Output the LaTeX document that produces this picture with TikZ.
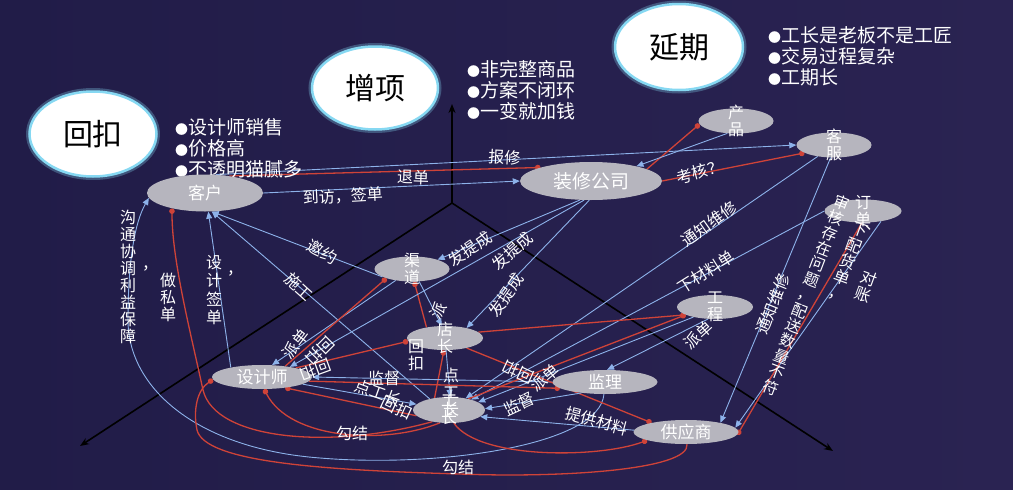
\documentclass[tikz,border=0pt]{standalone}
\usepackage{fontspec}
\setmainfont{Noto Sans CJK SC}
\usetikzlibrary{shapes.geometric,arrows.meta}
\pgfdeclarelayer{bg}
\pgfdeclarelayer{edges}
\pgfsetlayers{bg,edges,main}
\definecolor{bgl}{HTML}{211C48}
\definecolor{bgr}{HTML}{2A2352}
\definecolor{ng}{HTML}{B6B5BE}
\definecolor{bl}{HTML}{8DB2EA}
\definecolor{rd}{HTML}{CF4338}
\definecolor{glow}{HTML}{86D8F2}
\newcommand{\mybul}{{\fontsize{13}{13}\selectfont ●}}
\begin{document}
\begin{tikzpicture}[x=1pt,y=-1pt,
  nd/.style={ellipse,fill=ng,inner sep=0pt},
  nt/.style={text=white,font=\fontsize{17}{18}\selectfont,align=center,inner sep=0pt},
  vt/.style={text=white,font=\fontsize{16}{17.5}\selectfont,align=center,inner sep=0pt},
  big/.style={ellipse,fill=white,draw=glow,line width=2.5pt,preaction={draw=glow,draw opacity=0.3,line width=7pt},text=black,font=\fontsize{30}{32}\selectfont,inner sep=0pt},
  lst/.style={text=white,align=left,anchor=north west,inner sep=0pt,font=\fontsize{19}{21}\selectfont},
  lb/.style={text=white,inner sep=0pt,font=\fontsize{16}{17}\selectfont},
  vs/.style={text=white,inner sep=0pt,align=center,font=\fontsize{16}{17}\selectfont},
  be/.style={draw=bl,line width=0.9pt,-{Triangle[length=7pt,width=6pt]}},
  re/.style={draw=rd,line width=1.3pt,-{Circle[length=5.5pt]}},
  ax/.style={draw=black,line width=1.6pt,-{Stealth[length=9pt,width=7pt]}}
]
\begin{pgfonlayer}{bg}
\shade[left color=bgl,right color=bgr] (0,0) rectangle (1013,490);
\end{pgfonlayer}
\useasboundingbox (0,0) rectangle (1013,490);

% big ellipses
\node[big,minimum width=127pt,minimum height=85pt] (hk) at (93,134) {回扣};
\node[big,minimum width=126pt,minimum height=83pt] (zxm) at (375,88) {增项};
\node[big,minimum width=128pt,minimum height=86pt] (yq) at (679,47) {延期};

% bullet lists
\node[lst] (l1) at (175,118) {\mybul 设计师销售\\\mybul 价格高\\\mybul 不透明猫腻多};
\node[lst] (l2) at (467,60) {\mybul 非完整商品\\\mybul 方案不闭环\\\mybul 一变就加钱};
\node[lst] (l3) at (768,26) {\mybul 工长是老板不是工匠\\\mybul 交易过程复杂\\\mybul 工期长};

% gray nodes
\node[nd,minimum width=116pt,minimum height=37pt,label={[nt]center:客户}] (kh) at (205,193) {};
\node[nd,minimum width=142pt,minimum height=38pt,label={[nt,font=\fontsize{19}{20}\selectfont]center:装修公司}] (zx) at (591,181) {};
\node[nd,minimum width=75pt,minimum height=25pt,label={[vt]center:{产\\品}}] (cp) at (736,121) {};
\node[nd,minimum width=75pt,minimum height=25pt,label={[vt]center:{客\\服}}] (kf) at (834,145) {};
\node[nd,minimum width=77pt,minimum height=23pt,label={[vt]center:{订\\单}}] (dd) at (863,211) {};
\node[nd,minimum width=75pt,minimum height=25pt,label={[vt]center:{渠\\道}}] (qd) at (412,269) {};
\node[nd,minimum width=76pt,minimum height=24pt,label={[vt]center:{工\\程}}] (gc) at (715,307) {};
\node[nd,minimum width=76pt,minimum height=24pt,label={[vt]center:{店\\长}}] (dz) at (445,338) {};
\node[nd,minimum width=100pt,minimum height=24pt,label={[nt]center:设计师}] (sj) at (262,377) {};
\node[nd,minimum width=72pt,minimum height=26pt,label={[vt]center:{工\\长}}] (gz) at (449,410) {};
\node[nd,minimum width=105pt,minimum height=24pt,label={[nt]center:监理}] (jl) at (605,382) {};
\node[nd,minimum width=105pt,minimum height=24pt,label={[nt]center:供应商}] (gy) at (686,432) {};

\coordinate (O) at (452,203);
\coordinate (Au) at (452,104);
\coordinate (Al) at (80,446);
\coordinate (Ar) at (833,451);

\begin{pgfonlayer}{edges}
\draw[ax] (O) -- (Au);
\draw[ax] (O) -- (Al);
\draw[ax] (O) -- (Ar);
% top
\draw[be] (kh.east) -- (zx.west);
\draw[be] (kh.60) -- (kf.west);
\draw[re] (kh.35) -- (zx.165);
\draw[re] (zx.12) -- (cp.185);
\draw[be] (cp.235) -- (zx.18);
\draw[re] (zx.0) -- (kf.195);
% right side
\draw[be] (kf.215) -- (gz.35);
\draw[be] (dd.180) -- (gz.25);
\draw[be] (gc.240) -- (jl.80);
\draw[be] (gc.205) -- (gz.15);
\draw[be] (kf.255) -- (gy.15);
\draw[be] (dd.330) -- (gy.5);
\draw[re] (dd.265) -- (gy.-3);
% to client
\draw[be] (qd.195) -- (kh.290);
\draw[be] (gz.150) -- (kh.290);
\draw[be] (sj.163) -- (kh.280);
\draw[be] (jl.265) .. controls (600,445) and (440,468) .. (320,458)
  .. controls (200,449) and (128,390) .. (128,320)
  .. controls (128,260) and (135,222) .. (kh.185);
% channel / designer / store
\draw[be] (qd.215) -- (sj.50);
\draw[re] (sj.25) -- (qd.200);
\draw[re] (dz.150) -- (qd.280);
\draw[be] (qd.300) -- (dz.105);
\draw[re] (sj.15) -- (dz.185);
\draw[re] (gz.140) -- (dz.265);
\draw[be] (dz.275) -- (gz.85);
\draw[be] (jl.180) -- (sj.0);
\draw[be] (sj.-10) -- (gz.170);
\draw[re] (gz.190) -- (sj.-25);
\draw[re] (dz.-25) -- (gy.165);
\draw[re] (dz.10) -- (gc.195);
\draw[re] (gz.30) -- (gc.195);
\draw[re] (sj.-5) -- (jl.188);
\draw[be] (jl.205) -- (gz.2);
\draw[be] (gy.178) -- (gz.-12);
% commissions
\draw[be] (zx.240) -- (qd.20);
\draw[be] (zx.250) -- (sj.20);
\draw[be] (zx.265) -- (dz.25);
% bottom curves
\draw[re] (gz.235) .. controls (385,445) and (290,440) .. (sj.280);
\draw[re] (gz.215) .. controls (330,450) and (215,440) .. (203,390)
  .. controls (190,330) and (172,260) .. (kh.205);
\draw[re] (gy.275) .. controls (690,470) and (560,478) .. (460,474)
  .. controls (320,470) and (205,462) .. (197,430)
  .. controls (193,410) and (197,390) .. (sj.183);
\draw[re] (gz.290) .. controls (480,460) and (600,458) .. (gy.192);
\end{pgfonlayer}

% edge labels
\node[lb,rotate=3] (e1) at (343,196) {到访，签单};
\node[lb,rotate=-3] (e2) at (505,157) {报修};
\node[lb,rotate=-2] (e3) at (413,177) {退单};
\node[lb,rotate=15] (e4) at (700,172) {考核？};
\node[lb,rotate=35] (e5) at (709,224) {通知维修};
\node[lb,rotate=32] (e6) at (706,272) {下材料单};
\node[lb,rotate=42] (e7) at (698,335) {派单};
\node[lb,rotate=68] (e8) at (773,304) {通知维修};
\node[vs,rotate=-21,font=\fontsize{15.5}{16.5}\selectfont] (e9) at (806,295) {审\\核\\存\\在\\问\\题\\，\\配\\送\\数\\量\\不\\符};
\node[vs,rotate=-20] (e10) at (848,262) {下\\配\\货\\单\\，};
\node[vs,rotate=-20] (e11) at (866,287) {对\\账};
\node[lb] (e12) at (873,228) {、};
\node[lb,rotate=-28] (e13) at (322,252) {邀约};
\node[lb,rotate=-42] (e14) at (299,287) {施工};
\node[vs,font=\fontsize{16}{18.5}\selectfont] (e15) at (214,290) {设\\计\\签\\单};
\node[lb] (e16) at (235,273) {，};
\node[vs] (e17) at (168,297) {做\\私\\单};
\node[vs] (e18) at (128,277) {沟\\通\\协\\调\\利\\益\\保\\障};
\node[lb] (e19) at (150,268) {，};
\node[lb,rotate=35] (e20) at (470,249) {发提成};
\node[lb,rotate=42] (e21) at (512,251) {发提成};
\node[lb,rotate=55] (e22) at (506,295) {发提成};
\node[lb,rotate=52] (e23) at (296,344) {派单};
\node[lb,rotate=225] (e24) at (320,351) {回扣};
\node[lb,rotate=200] (e25) at (316,370) {回扣};
\node[vs] (e26) at (416,355) {回\\扣};
\node[lb] (e27) at (384,378) {监督};
\node[lb,rotate=-20] (e28) at (378,393) {点工长};
\node[lb,rotate=-25] (e29) at (397,408) {回扣};
\node[vs] (e30) at (451,392) {点\\工\\长};
\node[lb,rotate=155] (e31) at (518,372) {回扣};
\node[lb,rotate=40] (e32) at (545,378) {派单};
\node[lb,rotate=25] (e33) at (519,404) {监督};
\node[lb,rotate=-15] (e34) at (597,421) {提供材料};
\node[lb] (e35) at (352,433) {勾结};
\node[lb] (e36) at (458,467) {勾结};
\node[lb,rotate=60] (e37) at (438,311) {派};
\end{tikzpicture}
\end{document}
